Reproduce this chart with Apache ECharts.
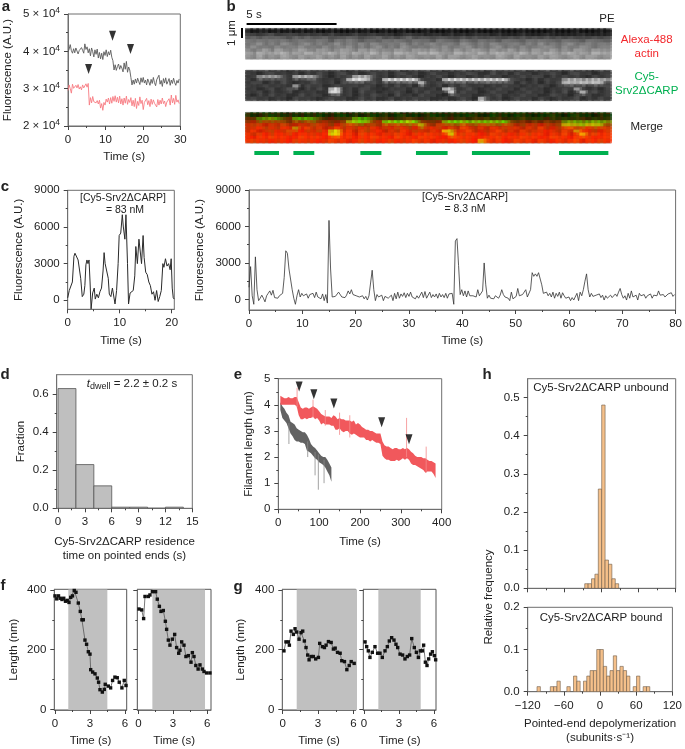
<!DOCTYPE html>
<html><head><meta charset="utf-8">
<style>html,body{margin:0;padding:0;background:#fff}#c{width:685px;height:749px}</style>
<script src="https://cdn.jsdelivr.net/npm/echarts@6/dist/echarts.min.js"></script>
</head><body><div id="c"></div>
<script>
// ---------- panel a (x 1000 A.U., sample step in s)
const aStep = 0.3;
const aGray = [39.8,40.6,41.8,40.2,39.5,40.7,39.6,40.9,40.1,39.3,40.2,39.7,41.0,40.3,39.5,42.0,40.5,41.2,39.6,40.7,38.8,40.9,39.9,38.5,40.4,39.2,40.6,38.2,39.7,38.0,39.5,37.8,39.9,38.9,40.4,38.6,39.9,39.0,40.3,38.4,37.5,35.0,36.4,34.9,35.9,36.6,35.2,36.2,35.5,34.5,36.9,35.2,37.3,34.4,35.8,35.0,33.0,31.0,32.3,31.2,32.6,31.5,32.8,31.9,31.1,32.9,31.7,33.0,31.5,32.3,31.0,32.6,31.8,30.9,32.5,31.4,33.0,31.6,30.8,32.4,31.9,33.6,31.2,32.2,30.6,32.7,31.5,32.9,31.2,31.9,32.7,30.9,32.3,31.4,32.8,31.6,30.9,32.2,31.5,32.6];
const aRed = [29.5,31.0,30.0,28.8,31.2,30.1,29.8,30.9,30.2,31.1,29.9,30.5,29.7,31.0,30.2,30.7,31.3,30.4,31.4,25.6,27.6,26.2,27.9,26.5,27.0,26.2,26.8,25.9,26.9,24.8,26.0,24.2,26.3,25.6,27.2,26.4,27.5,25.9,27.6,26.1,27.9,26.6,28.1,26.4,27.7,26.2,28.0,25.9,27.3,25.6,27.5,26.1,28.0,25.8,27.1,26.3,27.6,25.4,26.9,25.2,27.4,24.7,26.6,25.5,27.8,26.0,26.9,24.4,26.3,25.9,27.4,25.7,26.8,25.2,27.2,25.8,27.0,26.1,26.5,25.1,27.1,25.6,26.9,25.9,27.5,26.0,26.7,25.2,26.4,25.9,27.3,25.6,28.3,26.2,27.4,25.8,28.2,26.4,27.0,26.0];
const aArrowT = [5.5,11.9,16.7];
const aArrowV = [35.3,44.2,40.6];
const aYTicks = [20,30,40,50];
const aYLabels = ['{n|2 × 10}{s|4}','{n|3 × 10}{s|4}','{n|4 × 10}{s|4}','{n|5 × 10}{s|4}'];

// ---------- panel b: kymograph cell tables (one digit per cell, read by eye)
const kymoActin = [
"0000000000000000000000000000000000000000000000000000000000000",
"1011010101010010001010010010001000100010001000100001000100010",
"3323423332323232223223222123221221212122212111211121111121111",
"4545454354544534454344534345344344334343343343434343434333434",
"6565656556556546565455465654655465546546554655465655465546554",
"5675657656756567565757656575656756657656576566565756567566566",
"6756575667565756675656756576565667566756567565756676575676566",
"7578687678768767876878676876877867686787686786768768676876877",
"8797889787987897879789787988798987798879789878978798789787988",
"7686768768678676867686786768767686876786768768676868767868767"];
const kymoCy5 = [
"1213121021312213102131221301213120213112031221302131203121031",
"2102312120213102312013120231201312021320131203120213102312012",
"1266663177763102137773120213102131022021312021313202131210312",
"2031213120231120388862199999931208998888888932102031267767776",
"1320213102132120312203120213182131213021322130312021376676761",
"2113121170312013122131021312031120313212021312021310213120213",
"1201302410213199120321102120311209711310213120312102131721202",
"2130211202120187120312021310213120813120131202131202130182312",
"1021312013122013120213210312031200231201213021312013210312012",
"2312021031210231201312013021312012013108312013120310212302131"];
const greenBarStart = [0.48,2.65,6.37,9.46,12.57,17.41];
const greenBarEnd = [1.85,3.81,7.54,11.22,15.8,20.15];
const scaleBarSeconds = [0.05,5.05];

// ---------- panel c
const c1T = [0,.3,.6,.9,1.2,1.4,1.7,2,2.2,2.5,2.8,3.1,3.3,3.5,3.7,3.9,4.1,4.3,4.5,4.8,5.1,5.3,5.6,5.9,6.2,6.5,6.8,7,7.2,7.5,7.8,8,8.3,8.6,8.8,9.1,9.4,9.7,9.9,10.2,10.5,10.7,11,11.2,11.5,11.7,12,12.3,12.6,12.9,13.1,13.4,13.7,14,14.2,14.5,14.7,15,15.3,15.6,15.9,16.2,16.5,16.8,17.1,17.4,17.7,18,18.3,18.5,18.8,19.1,19.4,19.7,19.9,20.1,20.3,20.5];
const c1V = [200,800,700,1500,3600,3850,3700,3300,3400,1800,300,500,1200,2900,3300,3000,3300,1500,-700,600,1000,100,500,200,700,1000,2400,3900,3000,3000,1800,500,300,1000,1100,-300,800,3000,5300,5500,7000,6000,5000,7000,3000,-300,600,500,800,2000,4400,3000,5000,5100,3000,5300,3500,2300,2100,1500,1200,500,700,0,800,-100,300,800,3000,2700,3400,2800,3000,2500,3400,1000,200,100];
const c2Step = 0.3;
const c2V = [1000,2700,300,-400,3500,800,-100,100,350,100,
-200,300,500,700,350,750,150,250,100,300,
200,500,1800,4000,3800,2500,2500,800,100,-400,
300,800,200,500,300,150,450,100,400,250,
500,150,600,200,350,50,450,-100,400,-300,
6500,2500,200,100,250,200,600,450,200,300,
150,350,700,450,800,400,250,300,150,200,
100,300,50,250,-50,300,400,2400,800,-100,
400,200,150,350,-100,250,350,100,250,350,
-100,500,50,600,100,450,250,550,150,500,
250,600,200,350,50,300,100,250,600,150,
650,100,200,600,150,400,200,450,100,500,
200,400,150,500,100,450,300,500,-400,4800,
5000,2800,400,800,300,700,200,700,300,200,
300,150,200,800,300,350,700,3000,1200,100,
350,100,200,50,300,400,100,350,800,400,
200,50,100,-100,600,50,100,250,900,300,
200,400,300,800,200,150,800,2200,1900,2100,
1900,2200,2200,1200,500,400,600,300,500,200,
600,100,500,250,600,100,550,300,100,100,
200,-100,150,-50,100,500,-100,600,300,800,
1500,2100,800,200,500,250,100,350,200,450,
150,350,-50,300,100,250,350,150,300,450,
250,600,900,400,100,300,-50,500,100,700,
200,50,350,-50,500,300,200,400,100,300,
200,450,100,350,250,300,700,350,250,400,
200,300,450,300,550,250,400];

// ---------- panel d
const dBinLeft = [0,2,4,6,8,10,12];
const dBinRight = [2,4,6,8,10,12,14];
const dFraction = [0.63,0.23,0.118,0.006,0.006,0,0.006];

// ---------- panel e
const eRedT = [5,10,15,20,25,30,35,40,45,50,55,60,65,70,75,80,85,90,95,100,105,110,115,120,125,130,135,140,145,150,155,160,165,170,175,180,185,190,195,200,205,210,215,220,225,230,235,240,245,250,255,260,265,270,275,280,285,290,295,300,305,310,315,320,325,330,335,340,345,350,355,360,365,370,375,380,385];
const eRedHi = [4.35,4.3,4.25,4.25,4.3,4.25,4.25,4.3,4.3,4.1,3.9,3.85,3.9,3.9,3.85,3.9,3.95,3.9,3.85,3.75,3.65,3.6,3.55,3.55,3.55,3.5,3.6,3.55,3.45,3.5,3.45,3.45,3.4,3.4,3.4,3.35,3.4,3.25,3.3,3.25,3.15,3.1,3.05,3.05,3,3,2.95,2.9,2.9,2.9,2.6,2.45,2.4,2.4,2.35,2.3,2.35,2.35,2.3,2.3,2.35,2.3,2.35,2.3,2.2,2.15,2.05,2,2,2,1.95,1.95,1.9,1.85,1.85,1.8,1.75];
const eRedLo = [4,4,4,4,4,4,4,4,3.95,3.6,3.45,3.45,3.5,3.45,3.5,3.5,3.55,3.45,3.5,3.4,3.25,3.3,3.25,3.25,3.25,3.2,3.2,3.05,3.05,3.1,3,2.95,3,3,2.9,2.85,2.9,2.85,2.8,2.75,2.75,2.75,2.65,2.65,2.6,2.65,2.6,2.55,2.55,2.5,2.05,1.95,1.9,1.9,1.85,1.85,1.85,1.9,1.85,1.9,1.95,1.9,1.95,1.9,1.75,1.7,1.7,1.65,1.6,1.55,1.5,1.4,1.45,1.45,1.45,1.35,1.2];
const eRedSpikeT = [46,85,115,150,175,314,362];
const eRedSpikeHi = [4.65,4.2,3.8,3.7,3.6,3.5,2.4];
const eRedSpikeLo = [3.9,3.5,3.2,2.85,2.75,2.0,1.4];
const eGrayT = [5,10,15,20,25,30,35,40,45,50,55,60,65,70,75,80,85,90,95,100,105,110,115,120,125,130];
const eGrayHi = [4.1,3.95,3.85,3.7,3.6,3.35,3.3,3.25,3.1,3.05,3,2.95,2.95,2.85,2.7,2.5,2.4,2.35,2.25,2.15,2.05,2,2,1.9,1.75,1.6];
const eGrayLo = [3.8,3.5,3.4,3.3,3.1,2.9,2.8,2.65,2.6,2.6,2.55,2.55,2.5,2.25,2.2,2.15,2.05,1.95,1.9,1.8,1.75,1.7,1.6,1.45,1.3,1.05];
const eGraySpikeT = [26,72,90,98,112];
const eGraySpikeHi = [3.3,2.6,2.2,2.1,1.9];
const eGraySpikeLo = [2.5,2.0,1.3,0.75,1.0];
const eArrowT = [51,87,136,253,320];
const eArrowV = [4.7,4.4,4.05,3.33,2.68];

// ---------- panels f, g
const f1T = [0,.15,.3,.45,.6,.75,.9,1.05,1.2,1.35,1.5,1.65,1.8,2,2.17,2.31,2.43,2.57,2.71,2.86,3,3.06,3.23,3.43,3.63,3.74,3.86,4.06,4.23,4.31,4.57,4.77,4.94,5.14,5.34,5.51,5.74,5.94,6.09];
const f1V = [380,370,380,372,368,372,362,365,358,375,380,398,392,356,328,300,300,232,218,193,185,133,125,119,105,91,66,58,67,84,78,72,97,108,106,91,72,97,80];
const f2T = [.06,.29,.46,.58,.87,1.01,1.22,1.5,1.65,1.83,1.97,2.17,2.35,2.46,2.61,2.75,2.96,3.16,3.33,3.51,3.62,3.77,3.97,4.14,4.35,4.58,4.7,4.84,5,5.2,5.36,5.57,5.71,5.94,6.23];
const f2V = [336,333,304,378,378,383,394,394,369,345,328,331,295,268,232,215,235,251,207,188,198,226,215,177,180,158,190,177,147,135,149,135,127,122,122];
const g1T = [.11,.28,.48,.57,.71,.91,1.05,1.19,1.39,1.56,1.7,1.84,1.98,2.12,2.24,2.41,2.6,2.8,3.03,3.14,3.37,3.54,3.68,3.88,4.11,4.3,4.45,4.65,4.87,5.01,5.24,5.44,5.64,5.81,6.06];
const g1V = [196,226,226,215,262,251,270,259,235,257,262,229,207,182,166,177,177,169,174,221,210,207,215,227,224,202,205,191,188,163,160,133,147,160,154];
const g2T = [.09,.23,.37,.51,.71,.94,1.17,1.37,1.57,1.8,2,2.17,2.37,2.57,2.74,2.89,3.09,3.31,3.51,3.71,3.91,4.09,4.31,4.49,4.66,4.83,5,5.11,5.26,5.4,5.54,5.71,5.86,6.03,6.14];
const g2V = [226,210,196,174,191,210,188,188,174,196,210,229,240,232,218,207,185,182,169,177,182,237,207,191,174,196,196,215,158,147,169,185,193,180,166];
const fGray1 = [1.14,4.49];
const fGray2 = [1.22,5.8];
const gGray1 = [1.19,6.3];
const gGray2 = [1.23,4.86];

// ---------- panel h (bin index, bin width in subunits/s)
const hBinWidth = 5.5;
const hTopBins = [-5,-4,-3,-2,-1,0,1,2,3,4];
const hTopFreq = [0.012,0.012,0.025,0.037,0.26,0.48,0.074,0.063,0.025,0.012];
const hBottomBins = [-19,-15,-14,-13,-10,-8,-7,-5,-4,-3,-2,-1,0,1,2,3,4,5,6,7,8,10,11,13,14];
const hBottomFreq = [0.012,0.012,0.012,0.025,0.012,0.037,0.025,0.025,0.037,0.05,0.05,0.1,0.1,0.06,0.037,0.05,0.085,0.05,0.06,0.05,0.037,0.012,0.037,0.012,0.012];

// ---------- chart assembly
const FONT = '"Liberation Sans", Arial, sans-serif';
const INK = '#222';
const FRAME = '#6f6f6f';
const opt = {animation:false, backgroundColor:'#fff', textStyle:{fontFamily:FONT},
  grid:[], xAxis:[], yAxis:[], series:[], graphic:[]};

function hiddenAxis(min,max,gridIndex){
  return {type:'value',min,max,gridIndex,show:false,splitLine:{show:false}};
}
function mainAxis(o,gridIndex,position,ticks,labelsOn,fmt,name,gap,lh,rich){
  const a = {type:'value',gridIndex,position,min:o.min,max:o.max,
    axisLine:{show:true,onZero:false,lineStyle:{color:FRAME,width:1}},
    splitLine:{show:false},
    axisTick:{show:true,length:4,inside:false,lineStyle:{color:'#444',width:1},customValues:ticks},
    axisLabel:{show:labelsOn,customValues:ticks,color:INK,fontSize:11.5,fontFamily:FONT,margin:8,hideOverlap:false,
      showMinLabel:true,showMaxLabel:true,formatter:fmt||(v=>String(v)),rich}};
  if(name){Object.assign(a,{name,nameLocation:'middle',nameGap:gap,nameMoveOverlap:false,
    nameTextStyle:{color:INK,fontSize:11.5,fontFamily:FONT,lineHeight:lh||14}});}
  return a;
}
function minorAxis(min,max,gridIndex,position,ticks){
  return {type:'value',gridIndex,position,min,max,axisLine:{show:false,onZero:false},splitLine:{show:false},axisLabel:{show:false},
    axisTick:{show:true,length:2,lineStyle:{color:'#444',width:1},customValues:ticks}};
}
function panel(c){
  const g = opt.grid.length;
  opt.grid.push({left:c.L,top:c.T,width:c.R-c.L,height:c.B-c.T,show:true,borderColor:c.frame||FRAME,borderWidth:1,backgroundColor:'transparent'});
  const xi = opt.xAxis.length, yi = opt.yAxis.length;
  opt.xAxis.push(mainAxis({min:c.xmin,max:c.xmax},g,'bottom',c.xt,c.xl!==false,c.xf,c.xn,c.xg,c.xlh));
  opt.yAxis.push(mainAxis({min:c.ymin,max:c.ymax},g,'left',c.yt,c.yl!==false,c.yf,c.yn,c.yg,null,c.yrich));
  if(c.xm) opt.xAxis.push(minorAxis(c.xmin,c.xmax,g,'bottom',c.xm));
  if(c.ym) opt.yAxis.push(minorAxis(c.ymin,c.ymax,g,'left',c.ym));
  return {xAxisIndex:xi,yAxisIndex:yi};
}
function rects(ax,data,style,grow,z){
  const d = grow||0;
  opt.series.push(Object.assign({type:'custom',silent:true,clip:true,z:z||2,data,
    encode:{x:[0,1],y:[2,3]},itemStyle:style,
    renderItem(p,api){
      const a=api.coord([api.value(0),api.value(3)]), b=api.coord([api.value(1),api.value(2)]);
      return {type:'rect',shape:{x:a[0]-d,y:a[1]-d,width:b[0]-a[0]+2*d,height:b[1]-a[1]+2*d},style:api.style()};
    }},ax));
}
function trace(ax,pts,color,width,z,extra){
  opt.series.push(Object.assign({type:'line',silent:true,data:pts,showSymbol:false,symbol:'none',
    lineStyle:{color,width},z:z||3},ax,extra||{}));
}
// a filled hi/lo envelope, one polygon through the axis scale
function band(ax,t,hi,lo,color,z){
  opt.series.push(Object.assign({type:'custom',silent:true,clip:true,z,data:[[t[0],hi[0]]],
    encode:{x:0,y:1},
    renderItem(p,api){
      const up=t.map((x,i)=>api.coord([x,hi[i]]));
      const dn=t.map((x,i)=>api.coord([x,lo[i]])).reverse();
      return {type:'polygon',shape:{points:up.concat(dn)},style:{fill:color,opacity:0.92}};
    }},ax));
}
function spikes(ax,t,hi,lo,color,z){
  const pts=[];
  t.forEach((x,i)=>{pts.push([x,hi[i]],[x,lo[i]],[x,null]);});
  trace(ax,pts,color,0.8,z,{connectNulls:false});
}
function arrows(ax,ts,vs){
  opt.series.push(Object.assign({type:'scatter',silent:true,data:ts.map((t,i)=>[t,vs[i]]),symbol:'triangle',
    symbolRotate:180,symbolSize:[7,10],itemStyle:{color:'#000'},z:6},ax));
}
const zip=(t,v)=>t.map((x,i)=>[x,v[i]]);
const stepped=(v,dt)=>v.map((y,i)=>[i*dt,y]);

// a
const axA = panel({L:67.7,R:180.3,T:14,B:126,xmin:0,xmax:30,xt:[0,10,20,30],xm:[5,15,25],
  ymin:20,ymax:50,yt:aYTicks,ym:[25,35,45],yf:v=>aYLabels[aYTicks.indexOf(v)],
  yrich:{n:{fontSize:11.5,fontFamily:FONT,color:INK},s:{fontSize:8.5,fontFamily:FONT,color:INK,padding:[0,0,6,0]}},
  xn:'Time (s)',xg:24,yn:'Fluorescence (A.U.)',yg:53});
trace(axA,stepped(aGray,aStep),'#5a5a5a',0.9);
trace(axA,stepped(aRed,aStep),'#f77c82',0.9);
arrows(axA,aArrowT,aArrowV);

// b kymographs
const KX0=245.7, KX1=610.7;
function kymoGrid(top,bg){
  const g=opt.grid.length;
  opt.grid.push({left:KX0,top,width:KX1-KX0,height:31,show:true,borderColor:'#cfcfcf',borderWidth:1,backgroundColor:bg});
  const xi=opt.xAxis.length, yi=opt.yAxis.length;
  opt.xAxis.push(hiddenAxis(0,61,g)); opt.yAxis.push(hiddenAxis(0,10,g));
  return {xAxisIndex:xi,yAxisIndex:yi};
}
function cells(colorOf){
  const out=[];
  for(let r=0;r<10;r++) for(let c=0;c<61;c++){
    out.push({value:[c,c+1,9-r,10-r],itemStyle:{color:colorOf(+kymoActin[r][c],+kymoCy5[r][c]),opacity:0.6}});
  }
  return out;
}
const grayOf=v=>`rgb(${v},${v},${v})`;
rects(kymoGrid(28.3,'#777'),cells(a=>grayOf(12+a*20)),{},1.4);
rects(kymoGrid(70,'#4a4a4a'),cells((a,c)=>grayOf(Math.min(255,c<6?35+c*15:c*30))),{},1.2);
rects(kymoGrid(112.3,'#a53010'),cells((a,c)=>`rgb(${Math.min(255,a*38)},${Math.min(255,c<6?25+c*16:c*28)},0)`),{},1.4);
function timeGrid(top,h){
  const g=opt.grid.length;
  opt.grid.push({left:KX0,top,width:KX1-KX0,height:h,show:false});
  const xi=opt.xAxis.length, yi=opt.yAxis.length;
  opt.xAxis.push(hiddenAxis(0,20.28,g)); opt.yAxis.push(hiddenAxis(0,1,g));
  return {xAxisIndex:xi,yAxisIndex:yi};
}
rects(timeGrid(23,2),[[scaleBarSeconds[0],scaleBarSeconds[1],0,1]],{color:'#000'});
rects(timeGrid(151,4),greenBarStart.map((s,i)=>[s,greenBarEnd[i],0,1]),{color:'#00b050'});

// c
const axC1 = panel({L:67.7,R:174.3,T:190.3,B:309.3,xmin:0,xmax:20.5,xt:[0,10,20],xm:[5,15],
  ymin:-736,ymax:9000,yt:[0,3000,6000,9000],ym:[1500,4500,7500],xn:'Time (s)',xg:25,yn:'Fluorescence (A.U.)',yg:41.7});
trace(axC1,zip(c1T,c1V),'#2a2a2a',1);
const axC2 = panel({L:249,R:676,T:190,B:310,xmin:0,xmax:80,xt:[0,10,20,30,40,50,60,70,80],xm:[5,15,25,35,45,55,65,75],
  ymin:-870,ymax:9000,yt:[0,3000,6000,9000],ym:[1500,4500,7500],xn:'Time (s)',xg:24,yn:'Fluorescence (A.U.)',yg:42});
trace(axC2,stepped(c2V,c2Step),'#333',0.8);

// d
const axD = panel({L:56.7,R:192.3,T:374.7,B:508.3,xmin:-0.15,xmax:15,xt:[0,3,6,9,12,15],xm:[1.5,4.5,7.5,10.5,13.5],
  ymin:0,ymax:0.703,yt:[0,0.2,0.4,0.6],ym:[0.1,0.3,0.5],yf:v=>v.toFixed(1),
  xn:'Cy5-Srv2ΔCARP residence\ntime on pointed ends (s)',xg:27,yn:'Fraction',yg:28.7});
rects(axD,dBinLeft.map((l,i)=>[l,dBinRight[i],0,dFraction[i]]),{color:'#bfbfbf',borderColor:'#555',borderWidth:0.8});

// e
const axE = panel({L:278.3,R:441.7,T:378.7,B:509.3,xmin:0,xmax:400,xt:[0,100,200,300,400],xm:[50,150,250,350],
  ymin:0,ymax:5,yt:[0,1,2,3,4,5],ym:[.5,1.5,2.5,3.5,4.5],xn:'Time (s)',xg:26,yn:'Filament length (μm)',yg:22});
band(axE,eGrayT,eGrayHi,eGrayLo,'#555555',3);
spikes(axE,eGraySpikeT,eGraySpikeHi,eGraySpikeLo,'#8a8a8a',3);
band(axE,eRedT,eRedHi,eRedLo,'#f04a4e',4);
spikes(axE,eRedSpikeT,eRedSpikeHi,eRedSpikeLo,'#f58a8c',4);
arrows(axE,eArrowT,eArrowV);

// f, g
function lenPanel(L,R,xmin,xmax,labelled,yg){
  return panel({L,R,T:589.3,B:711.7,frame:'#555',xmin,xmax,xt:[0,3,6],xm:[1.5,4.5],ymin:-2,ymax:402,yt:[0,200,400],ym:[100,300],
    yl:labelled,xn:'Time (s)',xg:24,yn:labelled?'Length (nm)':null,yg});
}
function lenSeries(ax,shade,t,v){
  rects(ax,[[shade[0],shade[1],-2,402]],{color:'#c0c0c0'},0,1);
  opt.series.push(Object.assign({type:'line',silent:true,data:zip(t,v),symbol:'rect',symbolSize:3.4,showSymbol:true,showAllSymbol:true,
    lineStyle:{color:'#555',width:0.8},itemStyle:{color:'#111'},z:4},ax));
}
lenSeries(lenPanel(54.3,126.7,-0.06,6.15,true,33),fGray1,f1T,f1V);
lenSeries(lenPanel(137.3,211,-0.09,6.32,false),fGray2,f2T,f2V);
lenSeries(lenPanel(282.3,355.7,-0.03,6.19,true,34),gGray1,g1T,g1V);
lenSeries(lenPanel(363.3,436,-0.06,6.17,false),gGray2,g2T,g2V);

// h
const hLabel=v=>v<0?'−'+(-v):String(v);
const axH1 = panel({L:527.7,R:675.7,T:378.7,B:588.3,xmin:-120,xmax:120,xt:[-120,-60,0,60,120],xm:[-90,-30,30,90],xl:false,
  ymin:0,ymax:0.549,yt:[0,.1,.2,.3,.4,.5],ym:[.05,.15,.25,.35,.45],yf:v=>v.toFixed(1)});
rects(axH1,hTopBins.map((k,i)=>[k*hBinWidth,(k+1)*hBinWidth,0,hTopFreq[i]]),{color:'#f5c08a',borderColor:'#6b5a48',borderWidth:0.6});
const axH2 = panel({L:527.7,R:675.7,T:607.3,B:691.7,xmin:-120,xmax:120,xt:[-120,-60,0,60,120],xm:[-90,-30,30,90],xf:hLabel,
  ymin:0,ymax:0.2,yt:[0,.1,.2],ym:[.05,.15],yf:v=>v.toFixed(1),
  xn:'Pointed-end depolymerization\n(subunits·s⁻¹)',xg:25});
rects(axH2,hBottomBins.map((k,i)=>[k*hBinWidth,(k+1)*hBinWidth,0,hBottomFreq[i]]),{color:'#f5c08a',borderColor:'#6b5a48',borderWidth:0.6});

// free text
function txt(x,y,text,o){
  opt.graphic.push({type:'text',x,y,silent:true,z:20,rotation:(o&&o.rotation)||0,
    style:Object.assign({text,fill:INK,font:`${(o&&o.weight)||'normal'} ${(o&&o.size)||11.5}px ${FONT}`,
      textAlign:(o&&o.align)||'center',textVerticalAlign:'middle',rich:(o&&o.rich)||undefined},(o&&o.style)||{})});
}
[['a',6,7],['b',231,7],['c',5,187],['d',5,375],['e',238,375],['f',3,586],['g',238,587],['h',487,375]]
  .forEach(p=>txt(p[1],p[2],p[0],{weight:'bold',size:15}));
txt(254,15,'5 s');
txt(607,18.5,'PE');
txt(232,33,'1 μm',{rotation:Math.PI/2});
txt(646.7,40,'Alexa-488',{style:{fill:'#f2282d'}});
txt(646.7,53.5,'actin',{style:{fill:'#f2282d'}});
txt(646.7,76.5,'Cy5-',{style:{fill:'#00b050'}});
txt(646.7,90.5,'Srv2ΔCARP',{style:{fill:'#00b050'}});
txt(646.7,126.7,'Merge');
txt(123,197.7,'[Cy5-Srv2ΔCARP]',{size:10.5});
txt(125,210,'= 83 nM',{size:10.5});
txt(465,196.7,'[Cy5-Srv2ΔCARP]',{size:10.5});
txt(465,209.3,'= 8.3 nM',{size:10.5});
txt(132,384,'{i|t}{s|dwell}{n| = 2.2 ± 0.2 s}',{rich:{
  i:{fontStyle:'italic',fontSize:11.5,fontFamily:FONT,fill:INK},
  s:{fontSize:9,fontFamily:FONT,fill:INK,padding:[5,0,0,0]},
  n:{fontSize:11.5,fontFamily:FONT,fill:INK}}});
txt(601,387.7,'Cy5-Srv2ΔCARP unbound');
txt(601,618.3,'Cy5-Srv2ΔCARP bound');
txt(488.5,597,'Relative frequency',{rotation:Math.PI/2});
opt.graphic.push({type:'rect',shape:{x:241,y:28,width:2,height:10},style:{fill:'#000'},silent:true,z:20});

const chart = echarts.init(document.getElementById('c'),null,{renderer:'canvas',width:685,height:749});
chart.setOption(opt);
</script></body></html>
